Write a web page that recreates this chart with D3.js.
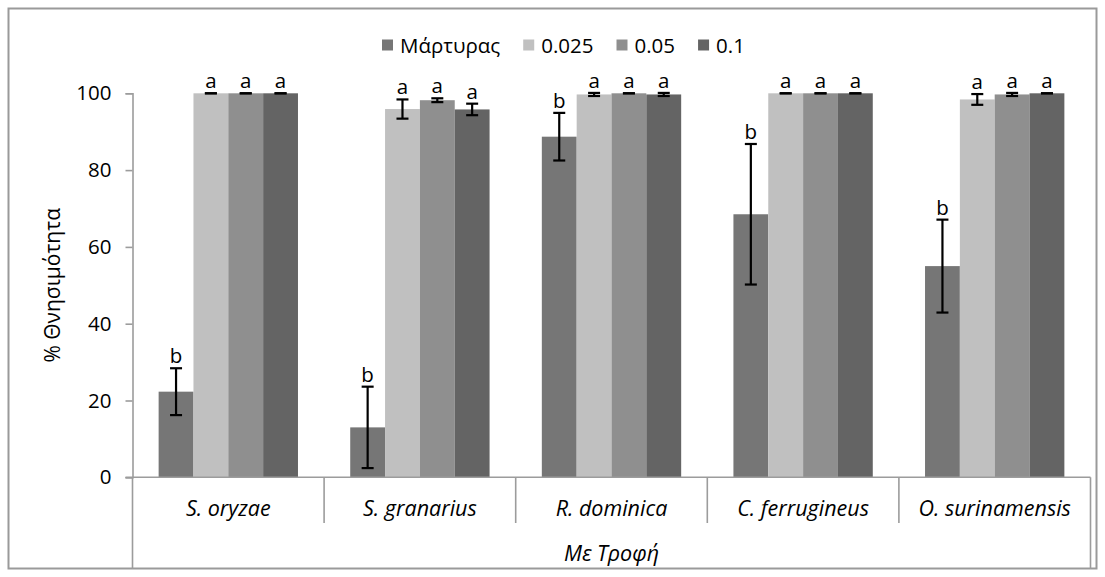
<!DOCTYPE html>
<html>
<head>
<meta charset="utf-8">
<script src="https://cdn.jsdelivr.net/npm/d3@7/dist/d3.min.js"></script>
<style>
  html, body { margin: 0; padding: 0; background: #fff; }
  svg { display: block; }
  text { font-family: "Open Sans", "Noto Sans", sans-serif; fill: #000; }
</style>
</head>
<body>
<svg id="chart" width="1105" height="577"></svg>
<script>
// Species (categories) and treatment series
const categories = ["S. oryzae", "S. granarius", "R. dominica", "C. ferrugineus", "O. surinamensis"];
const seriesNames = ["Μάρτυρας", "0.025", "0.05", "0.1"];

// Mean mortality (%) per series, one value per species
const controlValues = [22.3, 13.0, 88.7, 68.5, 55.0];
const dose025Values = [100, 95.9, 99.7, 100, 98.4];
const dose05Values  = [100, 98.2, 100, 100, 99.7];
const dose1Values   = [100, 95.8, 99.7, 100, 100];

// Error (± standard error) per series
const controlErr = [6.1, 10.6, 6.2, 18.3, 12.1];
const dose025Err = [0, 2.5, 0.4, 0, 1.4];
const dose05Err  = [0, 0.5, 0, 0, 0.4];
const dose1Err   = [0, 1.5, 0.4, 0, 0];

// Significance letters per series
const controlLetters = ["b", "b", "b", "b", "b"];
const dose025Letters = ["a", "a", "a", "a", "a"];
const dose05Letters  = ["a", "a", "a", "a", "a"];
const dose1Letters   = ["a", "a", "a", "a", "a"];

const yTicks = [0, 20, 40, 60, 80, 100];
const yTitle = "% Θνησιμότητα";
const xTitle = "Με Τροφή";

const seriesColors = ["#767676", "#c0c0c0", "#8f8f8f", "#646464"];

const valuesBySeries = [controlValues, dose025Values, dose05Values, dose1Values];
const errBySeries = [controlErr, dose025Err, dose05Err, dose1Err];
const lettersBySeries = [controlLetters, dose025Letters, dose05Letters, dose1Letters];

const rows = [];
categories.forEach((cat, ci) => {
  seriesNames.forEach((s, si) => {
    rows.push({
      cat, series: s, si,
      value: valuesBySeries[si][ci],
      err: errBySeries[si][ci],
      letter: lettersBySeries[si][ci]
    });
  });
});

const svg = d3.select("#chart");
const plot = { left: 132.5, right: 1090.5, top: 93.3, bottom: 477.3 };
const axisColor = "#9c9c9c";
const fontSize = 20.5;
const italicSize = 21.5;

// Outer chart border
svg.append("rect")
  .attr("x", 8.5).attr("y", 8.5)
  .attr("width", 1088).attr("height", 560)
  .attr("fill", "#fff")
  .attr("stroke", "#9a9a9a").attr("stroke-width", 2);

const x0 = d3.scaleBand().domain(categories).range([plot.left, plot.right]).padding(0);
const x1 = d3.scaleBand().domain(seriesNames).range([0, x0.bandwidth()])
  .paddingInner(0).paddingOuter(0.75);
const y = d3.scaleLinear().domain([0, 100]).range([plot.bottom, plot.top]);
const color = d3.scaleOrdinal().domain(seriesNames).range(seriesColors);

// Y axis
const yAxis = svg.append("g")
  .attr("transform", `translate(${plot.left},0)`)
  .call(d3.axisLeft(y).tickValues(yTicks).tickSize(7).tickPadding(14).tickFormat(d3.format("d")));
yAxis.select(".domain").attr("stroke", axisColor).attr("stroke-width", 1.6);
yAxis.selectAll(".tick line").attr("stroke", axisColor).attr("stroke-width", 1.6);
yAxis.selectAll(".tick text")
  .attr("font-size", fontSize)
  .attr("font-family", "'Open Sans', sans-serif")
  .attr("fill", "#000");

// Bars
svg.append("g").selectAll("rect")
  .data(rows)
  .join("rect")
  .attr("x", d => x0(d.cat) + x1(d.series))
  .attr("y", d => y(d.value))
  .attr("width", x1.bandwidth())
  .attr("height", d => y(0) - y(d.value))
  .attr("fill", d => color(d.series));

// X axis baseline
svg.append("line")
  .attr("x1", plot.left - 7).attr("x2", plot.right)
  .attr("y1", y(0)).attr("y2", y(0))
  .attr("stroke", axisColor).attr("stroke-width", 1.6);

// Category separators below the axis
const bounds = categories.map(c => x0(c)).concat([x0(categories[categories.length - 1]) + x0.bandwidth()]);
svg.append("g").selectAll("line")
  .data(bounds)
  .join("line")
  .attr("x1", d => d).attr("x2", d => d)
  .attr("y1", y(0))
  .attr("y2", (d, i) => (i === 0 || i === bounds.length - 1) ? 569 : 523)
  .attr("stroke", axisColor).attr("stroke-width", 1.6);

// Category labels
svg.append("g").selectAll("text")
  .data(categories)
  .join("text")
  .attr("x", d => x0(d) + x0.bandwidth() / 2)
  .attr("y", 516)
  .attr("text-anchor", "middle")
  .attr("font-size", italicSize)
  .attr("font-style", "italic")
  .text(d => d);

// Group title under the categories
svg.append("text")
  .attr("x", (plot.left + plot.right) / 2)
  .attr("y", 561)
  .attr("text-anchor", "middle")
  .attr("font-size", italicSize)
  .attr("font-style", "italic")
  .text(xTitle);

// Y axis title
svg.append("text")
  .attr("transform", `translate(60,${(plot.top + plot.bottom) / 2}) rotate(-90)`)
  .attr("text-anchor", "middle")
  .attr("font-size", 21)
  .text(yTitle);

// Error bars
const capHalf = 6;
const eb = svg.append("g").attr("stroke", "#000").attr("stroke-width", 2.2);
rows.forEach(d => {
  const cx = x0(d.cat) + x1(d.series) + x1.bandwidth() / 2;
  const yTop = y(d.value + d.err), yBot = y(d.value - d.err);
  eb.append("line").attr("x1", cx).attr("x2", cx).attr("y1", yTop).attr("y2", yBot);
  eb.append("line").attr("x1", cx - capHalf).attr("x2", cx + capHalf).attr("y1", yTop).attr("y2", yTop);
  eb.append("line").attr("x1", cx - capHalf).attr("x2", cx + capHalf).attr("y1", yBot).attr("y2", yBot);
});

// Significance letters
svg.append("g").selectAll("text")
  .data(rows)
  .join("text")
  .attr("x", d => x0(d.cat) + x1(d.series) + x1.bandwidth() / 2)
  .attr("y", d => y(d.value + d.err) - 5)
  .attr("text-anchor", "middle")
  .attr("font-size", fontSize)
  .text(d => d.letter);

// Legend
const legend = svg.append("g");
let lx = 382;
const ly = 45;
seriesNames.forEach((s) => {
  legend.append("rect")
    .attr("x", lx).attr("y", ly - 5.5)
    .attr("width", 11).attr("height", 11)
    .attr("fill", color(s));
  const t = legend.append("text")
    .attr("x", lx + 18).attr("y", ly + 7.5)
    .attr("font-size", fontSize)
    .text(s);
  const w = t.node().getComputedTextLength();
  lx = lx + 18 + w + 23;
});
</script>
</body>
</html>
